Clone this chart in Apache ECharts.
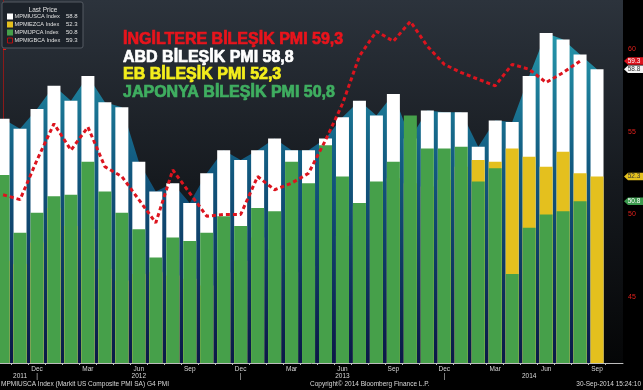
<!DOCTYPE html>
<html><head><meta charset="utf-8">
<script src="https://cdn.jsdelivr.net/npm/echarts@6/dist/echarts.min.js"></script>
<style>html,body{margin:0;padding:0;background:#000;}#c{width:643px;height:390px;}</style>
</head><body><div id="c"></div>
<script>
const months = ['Oct-11','Nov-11','Dec-11','Jan-12','Feb-12','Mar-12','Apr-12','May-12','Jun-12','Jul-12','Aug-12','Sep-12',
  'Oct-12','Nov-12','Dec-12','Jan-13','Feb-13','Mar-13','Apr-13','May-13','Jun-13','Jul-13','Aug-13','Sep-13',
  'Oct-13','Nov-13','Dec-13','Jan-14','Feb-14','Mar-14','Apr-14','May-14','Jun-14','Jul-14','Aug-14','Sep-14'];
const usPMI = [55.8,55.2,56.4,57.8,56.9,58.4,56.8,56.5,53.2,51.4,51.9,50.7,
  52.5,53.9,53.3,53.9,54.6,53.9,53.9,54.6,55.9,56.9,56.0,57.3,
  54.6,56.3,56.2,56.2,54.1,55.7,55.6,58.4,61.0,60.6,59.7,58.8];
const ezPMI = [47.2,47.0,48.3,50.4,49.3,49.1,46.7,46.0,46.4,46.5,46.3,46.1,
  45.7,46.5,47.2,48.6,47.9,46.5,46.9,47.7,48.7,50.5,51.5,52.2,
  51.9,51.7,52.1,52.9,53.3,53.2,54.0,53.5,52.9,53.8,52.5,52.3];
const jpPMI = [52.4,48.9,50.1,51.1,51.2,53.2,51.4,50.1,49.1,47.4,48.6,48.4,
  48.9,49.9,49.3,50.4,50.2,53.2,51.9,54.2,52.3,50.7,52.0,53.2,
  56.0,54.0,54.0,54.1,52.0,52.8,46.4,49.2,50.0,50.2,50.8,null];
const ukPMI = [51.2,50.9,53.3,55.5,53.9,55.3,52.9,52.3,50.9,49.5,52.7,51.3,
  49.9,50.0,50.0,52.3,51.5,51.9,52.5,54.5,56.7,59.6,61.1,60.5,
  61.7,60.2,59.1,58.6,58.2,57.8,59.1,58.8,58.0,58.6,59.3,null];
const seriesNames = ['MPMIUSCA Index','MPMIEZCA Index','MPMIJPCA Index','MPMIGBCA Index'];
const yTickValues = [45,50,55,60];
const monthTickNames = ['Dec','Mar','Jun','Sep'];
const yearLabels = ['2011','2012','2013','2014'];
const yearLabelMonths = ['Nov-11','Jun-12','Jun-13','May-14'];
const headlines = ['İNGİLTERE BİLEŞİK PMI 59,3','ABD BİLEŞİK PMI 58,8','EB BİLEŞİK PMI 52,3','JAPONYA BİLEŞİK PMI 50,8'];
const footerLeft = 'MPMIUSCA Index (Markit US Composite PMI SA) G4 PMI';
const footerMid = 'Copyright\u00A9 2014 Bloomberg Finance L.P.';
const footerRight = '30-Sep-2014 15:24:10';

const C = {us:'#ffffff', ez:'#e4c01e', jp:'#46a04a', uk:'#dc141e'};
const headColors = ['#e8141c','#ffffff','#f4ee1c','#3fae60'];
const FONT = '"Liberation Sans", Arial, sans-serif';

const pairs = arr => arr.map((v,i)=>[i,v]).filter(p=>p[1]!==null);
const lastVal = arr => { for (let i=arr.length-1;i>=0;i--) if (arr[i]!==null) return arr[i]; return null; };

const monthLabelIdx = months.map((m,i)=>monthTickNames.includes(m.slice(0,3))?i:null).filter(v=>v!==null);
const decIdx = months.map((m,i)=>m.startsWith('Dec')?i:null).filter(v=>v!==null);
const yearIdx = yearLabelMonths.map(m=>months.indexOf(m)).concat(decIdx);

const chart = echarts.init(document.getElementById('c'), null, {renderer:'canvas'});
const xMin = -0.18, xMax = 36.53;
chart.setOption({
  backgroundColor:'#000',
  animation:false,
  grid:{left:0,right:20,top:0,bottom:27,show:true,borderWidth:0,outerBoundsMode:'none',
    backgroundColor:new echarts.graphic.LinearGradient(0,0,0,1,[{offset:0,color:'#2c333c'},{offset:0.5,color:'#161a1f'},{offset:1,color:'#050607'}])},
  xAxis:[{
    type:'value', min:xMin, max:xMax, position:'bottom',
    axisLine:{show:true,lineStyle:{color:'#bdbdbd',width:1}},
    axisTick:{show:true,customValues:months.map((_,i)=>i+0.5),length:2,lineStyle:{color:'#bdbdbd'}},
    axisLabel:{customValues:monthLabelIdx,formatter:v=>months[Math.round(v)].slice(0,3),color:'#d8d8d8',fontSize:6.5,margin:3,fontFamily:FONT},
    splitLine:{show:false}
  },{
    type:'value', min:xMin, max:xMax, position:'bottom', offset:7,
    axisLine:{show:false}, axisTick:{show:false}, splitLine:{show:false},
    axisLabel:{customValues:yearIdx,color:'#d8d8d8',fontSize:6.5,margin:3,fontFamily:FONT,
      formatter:v=>{const i=Math.round(v);const k=yearLabelMonths.indexOf(months[i]);if(k>=0)return yearLabels[k];if(months[i].startsWith('Dec'))return '|';return '';}}
  }],
  yAxis:{
    type:'value', position:'right', min:41, max:63,
    axisLine:{show:true,lineStyle:{color:'#8a1a1a',width:1}},
    axisTick:{show:true,customValues:yTickValues,length:3,lineStyle:{color:'#e0201c'}},
    axisLabel:{customValues:yTickValues,color:'#e0201c',fontSize:7,margin:5,fontFamily:FONT},
    splitLine:{show:false}
  },
  series:[
    {type:'line',name:'area',data:pairs(usPMI),symbol:'none',silent:true,z:1,
      lineStyle:{width:0},
      areaStyle:{origin:'start',opacity:1,color:new echarts.graphic.LinearGradient(0,0,0,1,[{offset:0,color:'#2597ab'},{offset:0.4,color:'#125a80'},{offset:1,color:'#0a1846'}])}},
    {type:'bar',name:seriesNames[0],data:pairs(usPMI),barWidth:13,barGap:'-100%',z:2,itemStyle:{color:C.us}},
    {type:'bar',name:seriesNames[1],data:pairs(ezPMI),barWidth:13,barGap:'-100%',z:2,itemStyle:{color:C.ez}},
    {type:'bar',name:seriesNames[2],data:pairs(jpPMI),barWidth:13,barGap:'-100%',z:2,itemStyle:{color:C.jp}},
    {type:'line',name:seriesNames[3],data:pairs(ukPMI),symbol:'none',z:5,
      lineStyle:{color:C.uk,width:3,type:[4,3]}}
  ]
});

const gfx = [];
// headlines
const headY = [39.5,57.5,75,92.5];
headlines.forEach((t,i)=>gfx.push({type:'text',x:123,y:headY[i],z:100,
  style:{text:t,fill:headColors[i],stroke:headColors[i],lineWidth:0.7,font:'bold 16px '+FONT,verticalAlign:'middle',align:'left'}}));
// legend box
gfx.push({type:'rect',z:100,shape:{x:2,y:2,width:81,height:46,r:2},style:{fill:'#1c222a',stroke:'#555b63',lineWidth:1}});
gfx.push({type:'text',z:101,x:43,y:10,style:{text:'Last Price',fill:'#e0e0e0',font:'6.5px '+FONT,align:'center',verticalAlign:'middle'}});
const legVals = [lastVal(usPMI),lastVal(ezPMI),lastVal(jpPMI),lastVal(ukPMI)];
const legCols = [C.us,C.ez,C.jp,null];
const rowY = [16.5,24.5,32.5,40.5];
seriesNames.forEach((n,i)=>{
  if (legCols[i]) gfx.push({type:'rect',z:101,shape:{x:7,y:rowY[i]-3,width:6,height:6},style:{fill:legCols[i]}});
  else gfx.push({type:'rect',z:101,shape:{x:7.5,y:rowY[i]-2.5,width:5,height:5},style:{fill:'none',stroke:'#b01010',lineWidth:1}});
  gfx.push({type:'text',z:101,x:14.5,y:rowY[i],style:{text:n,fill:'#e0e0e0',font:'5.6px '+FONT,verticalAlign:'middle'}});
  gfx.push({type:'text',z:101,x:66,y:rowY[i],style:{text:legVals[i].toFixed(1),fill:'#e0e0e0',font:'6px '+FONT,verticalAlign:'middle'}});
});
// footer
gfx.push({type:'text',z:100,x:1,y:384,style:{text:footerLeft,fill:'#d8d8d8',font:'6.5px '+FONT,verticalAlign:'middle'}});
gfx.push({type:'text',z:100,x:310,y:384,style:{text:footerMid,fill:'#d8d8d8',font:'6.5px '+FONT,verticalAlign:'middle'}});
gfx.push({type:'text',z:100,x:641,y:384,style:{text:footerRight,fill:'#d8d8d8',font:'6.5px '+FONT,verticalAlign:'middle',align:'right'}});
// value tags on right axis
const tagDefs = [[lastVal(ukPMI),C.uk,'#fff'],[lastVal(usPMI),'#f4f4f4','#333'],[lastVal(ezPMI),C.ez,'#333'],[lastVal(jpPMI),'#3c9a4e','#fff']];
tagDefs.forEach(([v,bg,fg])=>{
  const y = chart.convertToPixel({yAxisIndex:0}, v);
  gfx.push({type:'polygon',z:100,shape:{points:[[624,y],[628,y-3.8],[643,y-3.8],[643,y+3.8],[628,y+3.8]]},style:{fill:bg}});
  gfx.push({type:'text',z:101,x:634,y:y,style:{text:v.toFixed(1),fill:fg,font:'6.5px '+FONT,align:'center',verticalAlign:'middle'}});
});
chart.setOption({graphic:gfx});
</script></body></html>
